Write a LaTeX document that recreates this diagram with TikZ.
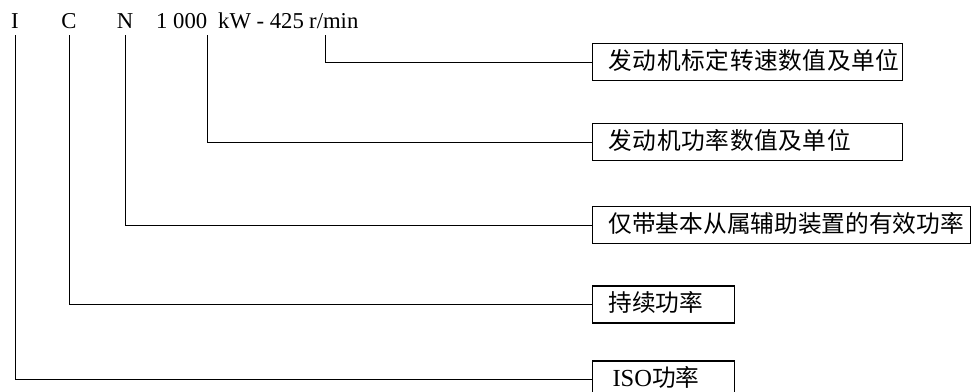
\documentclass[tikz,border=0pt]{standalone}
\usepackage{fontspec}
\setmainfont{Liberation Serif}
\newfontfamily\cjkfont{Noto Sans CJK SC}
\newfontfamily\cjkwide[LetterSpace=2.5]{Noto Sans CJK SC}
\begin{document}
\begin{tikzpicture}[x=1pt,y=-1pt,
  hdr/.style={font=\fontsize{22.7}{26}\selectfont, inner sep=0pt, anchor=base},
  hdrw/.style={font=\fontsize{22.7}{26}\selectfont, inner sep=0pt, anchor=base west},
  lbl/.style={draw, line width=1.1pt, anchor=west, minimum height=37pt,
    inner ysep=0pt, inner xsep=16pt, align=left,
    text height=17pt, text depth=3pt,
    font=\cjkfont\fontsize{23.7}{26}\selectfont},
  conn/.style={line width=1pt}]
\useasboundingbox (0,0) rectangle (971,391);
% header text
\node[hdr] (tI) at (15,28) {I};
\node[hdr] (tC) at (69,28) {C};
\node[hdr] (tN) at (125,28) {N};
\node[hdrw] (tnum) at (156,28) {1~000};
\node[hdrw] (tkw) at (218,28) {kW - 425};
\node[hdrw] (tR) at (309,28) {r/min};
% boxes
\node[lbl, text width=278pt] (b1) at (592,62) {{\cjkwide 发动机标定转速数值及单位}};
\node[lbl, text width=278pt] (b2) at (592,142) {{\cjkwide 发动机功率数值及单位}};
\node[lbl, text width=346pt] (b3) at (592,225) {仅带基本从属辅助装置的有效功率};
\node[lbl, text width=110pt] (b4) at (592,304.5) {持续功率};
\node[lbl, text width=102pt, inner xsep=20pt] (b5) at (592,379.5) {{\rmfamily\fontsize{24.5}{26}\selectfont ISO}功率};
% connectors
\draw[conn] ([xshift=16pt,yshift=-7pt]tR.south west) |- (b1.west);
\draw[conn] ([yshift=-7pt]tnum.south east) |- (b2.west);
\draw[conn] ([yshift=-7pt]tN.south) |- (b3.west);
\draw[conn] ([yshift=-7pt]tC.south) |- (b4.west);
\draw[conn] ([yshift=-7pt]tI.south) |- (b5.west);
\end{tikzpicture}
\end{document}
